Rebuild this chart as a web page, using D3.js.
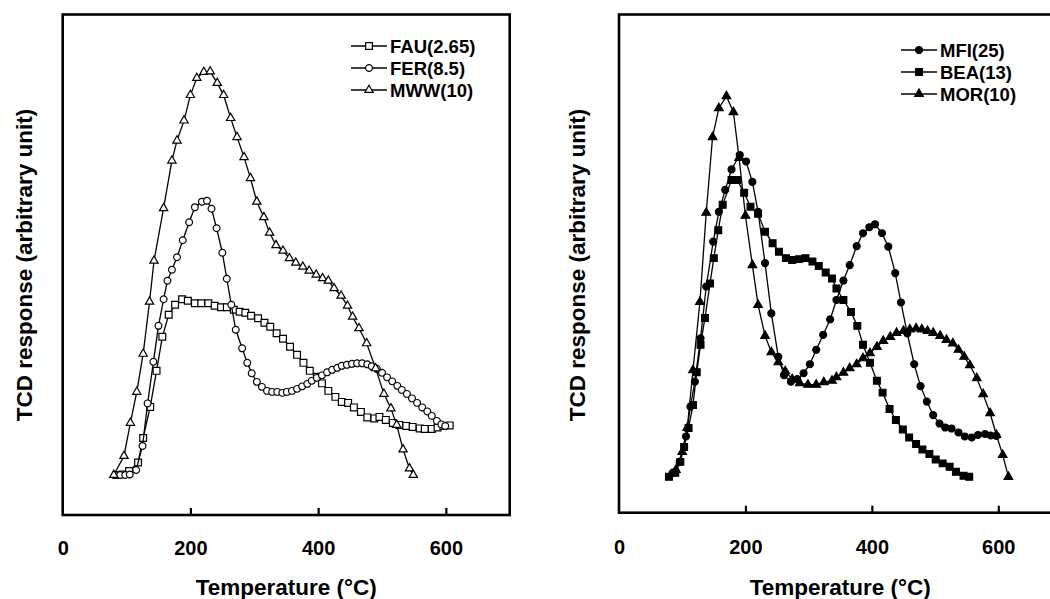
<!DOCTYPE html>
<html><head><meta charset="utf-8">
<script src="https://cdn.jsdelivr.net/npm/d3@7"></script>
<style>
body{margin:0;background:#fff}
text{font-family:"Liberation Sans",Arial,sans-serif;font-weight:bold;fill:#000}
</style></head>
<body><svg id="c" width="1050" height="599"></svg>
<script>
// ---- data (Temperature °C, TCD response arbitrary unit 0-100) ----
const xTicks = [0, 200, 400, 600];
const xTitle = "Temperature (\u00B0C)";
const yTitle = "TCD response (arbitrary unit)";

const FAU = [[84,8.0],[94,8.1],[104,8.8],[118,10.5],[126,15.4],[137,21.6],[147,28.8],[156,35.6],[166,40.0],[176,42.0],[187,43.1],[196,42.8],[207,42.3],[217,42.3],[228,42.3],[238,41.8],[248,41.5],[257,41.5],[268,41.0],[277,40.6],[286,40.4],[295,39.8],[306,39.3],[316,38.4],[325,37.6],[335,36.3],[345,35.2],[356,33.6],[367,32.0],[377,30.4],[387,28.8],[398,27.6],[406,26.3],[416,24.8],[427,23.6],[437,22.6],[447,22.4],[456,21.5],[467,20.6],[477,19.5],[488,19.3],[496,19.6],[506,19.0],[517,18.4],[527,18.0],[538,17.8],[548,17.6],[559,17.3],[567,17.2],[578,17.2],[587,17.5],[596,17.8],[606,17.9]];
const FER = [[82,8.0],[90,8.0],[98,8.0],[105,8.1],[115,9.0],[125,13.8],[133,22.3],[142,30.6],[150,37.8],[158,43.1],[164,46.8],[171,49.0],[179,51.5],[188,54.9],[198,58.5],[207,61.5],[218,62.6],[226,62.8],[233,61.2],[241,57.3],[250,52.4],[257,47.2],[264,42.0],[271,37.0],[281,33.3],[289,30.4],[296,28.3],[304,26.6],[312,25.6],[320,24.8],[328,24.6],[336,24.6],[344,24.4],[351,24.6],[359,24.8],[367,25.2],[375,25.7],[383,26.2],[390,26.8],[398,27.4],[406,27.9],[414,28.5],[422,29.0],[430,29.4],[437,29.8],[445,30.0],[453,30.2],[461,30.3],[469,30.3],[477,30.1],[484,29.7],[492,29.2],[500,28.4],[508,27.5],[516,26.7],[524,25.8],[531,25.0],[539,24.2],[547,23.3],[555,22.4],[563,21.5],[571,20.7],[578,19.8],[586,18.8],[593,18.1],[599,17.8]];
const MWW = [[80,8.0],[96,11.8],[106,18.4],[116,24.6],[126,32.2],[136,42.6],[143,50.8],[158,61.3],[171,70.8],[179,74.8],[190,78.8],[200,83.9],[210,87.3],[221,88.5],[231,88.6],[242,86.3],[252,83.9],[263,79.3],[273,75.5],[284,71.5],[294,67.3],[304,62.6],[315,59.5],[324,56.4],[334,53.9],[345,52.8],[355,51.3],[365,50.4],[376,49.6],[386,48.8],[397,48.0],[407,47.3],[416,46.8],[425,45.3],[436,43.8],[446,41.8],[454,39.6],[464,37.3],[476,34.3],[490,29.3],[503,24.2],[514,21.3],[523,18.0],[533,13.1],[543,9.3],[549,8.0]];

const MFI = [[85,8.0],[96,10.2],[106,15.3],[113,21.3],[120,26.3],[129,35.0],[138,45.4],[149,54.4],[158,60.4],[168,64.8],[178,68.9],[191,71.8],[201,70.5],[211,66.4],[220,60.4],[231,50.1],[241,40.0],[252,31.3],[261,27.6],[272,26.3],[282,26.8],[292,28.0],[302,29.8],[312,32.7],[323,35.7],[334,38.8],[344,42.7],[355,46.6],[365,49.7],[376,53.5],[386,56.1],[396,57.3],[405,57.9],[416,56.1],[426,53.4],[437,48.1],[446,42.2],[456,36.0],[467,29.8],[477,25.4],[487,22.3],[497,19.6],[507,17.9],[516,17.1],[526,16.9],[537,16.1],[547,15.3],[558,15.1],[568,15.6],[579,15.8],[588,15.5],[597,15.4]];
const BEA = [[79,7.2],[89,8.0],[97,10.2],[103,13.2],[110,17.0],[117,21.6],[123,28.2],[129,33.7],[136,39.1],[144,46.0],[150,51.1],[157,56.7],[164,61.8],[178,66.8],[187,66.8],[198,64.2],[208,61.4],[220,60.0],[231,56.4],[243,54.1],[253,52.4],[264,51.1],[274,50.7],[285,50.9],[295,51.1],[306,50.4],[316,49.5],[327,48.2],[337,47.0],[344,45.0],[355,42.7],[367,40.3],[377,37.5],[386,33.7],[397,30.1],[408,26.5],[417,24.1],[428,20.8],[438,18.6],[449,16.7],[459,15.1],[470,13.8],[480,12.7],[491,11.8],[501,10.7],[512,9.9],[523,9.2],[533,8.2],[545,7.4],[554,7.2]];
const MOR = [[90,8.6],[100,12.2],[108,17.0],[117,28.6],[128,42.3],[138,60.2],[148,75.4],[158,81.2],[170,83.6],[181,80.4],[190,71.2],[200,59.6],[211,49.7],[220,41.7],[231,35.5],[241,32.2],[252,30.2],[263,28.4],[274,26.8],[286,26.0],[299,25.7],[312,25.7],[324,26.2],[337,26.5],[344,27.2],[355,28.1],[365,29.0],[376,29.8],[386,31.0],[397,32.0],[408,33.3],[418,34.5],[429,35.3],[439,36.1],[450,36.5],[460,36.8],[470,37.0],[479,36.8],[488,36.5],[497,36.1],[508,35.5],[518,34.7],[528,34.0],[537,32.7],[546,31.3],[555,29.6],[566,27.0],[576,23.8],[587,20.0],[597,15.6],[607,11.6],[616,7.2]];

const leftNames = ["FAU(2.65)", "FER(8.5)", "MWW(10)"];
const rightNames = ["MFI(25)", "BEA(13)", "MOR(10)"];

// ---- drawing ----
const svg = d3.select("#c");

function panel(cfg){
  const x = d3.scaleLinear().domain([0,700]).range([cfg.x0, cfg.x1]);
  const y = d3.scaleLinear().domain([0,100]).range([cfg.yb, cfg.yt]);
  const g = svg.append("g");

  // series
  cfg.series.forEach((s,i)=>{
    g.append("path").datum(s.data)
      .attr("fill","none").attr("stroke","#000").attr("stroke-width",1.3)
      .attr("d", d3.line().x(d=>x(d[0])).y(d=>y(d[1])));
    const sym = d3.symbol().type(s.type).size(s.size);
    g.selectAll(null).data(s.data).enter().append("path")
      .attr("d", sym)
      .attr("transform", d=>`translate(${x(d[0])},${y(d[1])})`)
      .attr("fill", cfg.filled ? "#000" : "#fff")
      .attr("stroke","#000").attr("stroke-width",1.2);
  });

  // frame
  g.append("rect").attr("x",cfg.x0).attr("y",cfg.yt)
    .attr("width",cfg.x1-cfg.x0).attr("height",cfg.yb-cfg.yt)
    .attr("fill","none").attr("stroke","#000").attr("stroke-width",2.6);

  // x axis ticks (inward) and labels
  const axis = d3.axisBottom(x).tickValues(xTicks).tickSize(0).tickPadding(0).tickFormat(d3.format("d"));
  const ax = g.append("g").attr("transform",`translate(0,${cfg.yb})`).call(axis);
  ax.select(".domain").remove();
  ax.selectAll(".tick text").attr("dy",null).attr("y",cfg.tickY - cfg.yb)
    .attr("dominant-baseline","central")
    .style("font-size","20px").style("font-family","'Liberation Sans',Arial,sans-serif").style("font-weight","bold").attr("fill","#000");
  ax.selectAll(".tick").filter(d=>d>0).append("line")
    .attr("y1",0).attr("y2",-7).attr("stroke","#000").attr("stroke-width",2.2);

  // titles
  g.append("text").attr("x",(cfg.x0+cfg.x1)/2).attr("y",587)
    .attr("text-anchor","middle").attr("dominant-baseline","central")
    .style("font-size","22.5px").text(xTitle);
  g.append("text").attr("transform",`translate(${cfg.ylx},265) rotate(-90)`)
    .attr("text-anchor","middle").attr("dominant-baseline","central")
    .style("font-size","22.5px").text(yTitle);

  // legend
  cfg.series.forEach((s,i)=>{
    const ly = cfg.legY + i*22;
    g.append("line").attr("x1",cfg.legX).attr("x2",cfg.legX+36).attr("y1",ly).attr("y2",ly)
      .attr("stroke","#000").attr("stroke-width",1.3);
    g.append("path").attr("d", d3.symbol().type(s.type).size(s.size)())
      .attr("transform",`translate(${cfg.legX+18},${ly})`)
      .attr("fill", cfg.filled ? "#000" : "#fff").attr("stroke","#000").attr("stroke-width",1.2);
    g.append("text").attr("x",cfg.legX+39).attr("y",ly)
      .attr("dominant-baseline","central").style("font-size","18.5px").text(s.name);
  });
}

panel({
  x0:62.7, x1:509.7, yb:515, yt:14.5, tickY:548, ylx:24, legX:351, legY:46, filled:false,
  series:[
    {name:leftNames[0], data:FAU, type:d3.symbolSquare, size:46},
    {name:leftNames[1], data:FER, type:d3.symbolCircle, size:36},
    {name:leftNames[2], data:MWW, type:d3.symbolTriangle, size:30}
  ]
});
panel({
  x0:619, x1:1061.5, yb:512.7, yt:14.5, tickY:547, ylx:577, legX:901, legY:50, filled:true,
  series:[
    {name:rightNames[0], data:MFI, type:d3.symbolCircle, size:38},
    {name:rightNames[1], data:BEA, type:d3.symbolSquare, size:46},
    {name:rightNames[2], data:MOR, type:d3.symbolTriangle, size:32}
  ]
});
</script></body></html>
